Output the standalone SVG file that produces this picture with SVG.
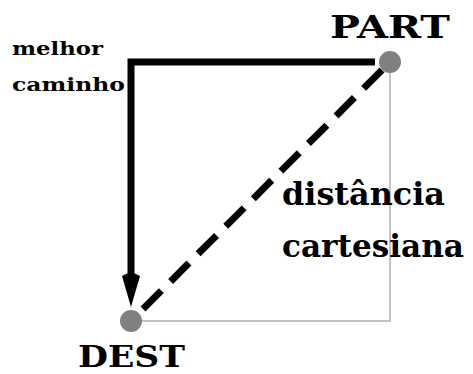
<svg xmlns="http://www.w3.org/2000/svg" width="473" height="374" viewBox="0 0 473 374">
<style>
.t{font-family:"DejaVu Serif","Liberation Serif",serif;fill:#000;font-weight:bold}
.node{fill:#808080}
</style>
<rect width="473" height="374" fill="#fff"/>
<g id="connectors">
<path d="M390,62 V321 H131" fill="none" stroke="#b0b0b0" stroke-width="1.5"/>
<path d="M375,62 H131 V280" fill="none" stroke="#000" stroke-width="7" stroke-linejoin="miter"/>
<path d="M122,276 L131,307 L140,276 Q131,270 122,276 Z" fill="#000"/>
<line x1="382" y1="70" x2="139" y2="313" stroke="#000" stroke-width="7" stroke-dasharray="26,13"/>
</g>
<g id="part">
<circle class="node" cx="390" cy="62" r="11"/>
<text class="t" x="330" y="38" font-size="31" textLength="120" lengthAdjust="spacingAndGlyphs">PART</text>
</g>
<g id="dest">
<circle class="node" cx="131" cy="321" r="11"/>
<text class="t" x="78" y="367" font-size="30" textLength="107" lengthAdjust="spacingAndGlyphs">DEST</text>
</g>
<g id="labels">
<text class="t" x="12" y="55" font-size="19" textLength="91" lengthAdjust="spacingAndGlyphs">melhor</text>
<text class="t" x="12" y="91" font-size="19" textLength="113" lengthAdjust="spacingAndGlyphs">caminho</text>
<text class="t" x="282" y="205" font-size="31" textLength="163" lengthAdjust="spacingAndGlyphs">distância</text>
<text class="t" x="282" y="257" font-size="31" textLength="182" lengthAdjust="spacingAndGlyphs">cartesiana</text>
</g>
</svg>
